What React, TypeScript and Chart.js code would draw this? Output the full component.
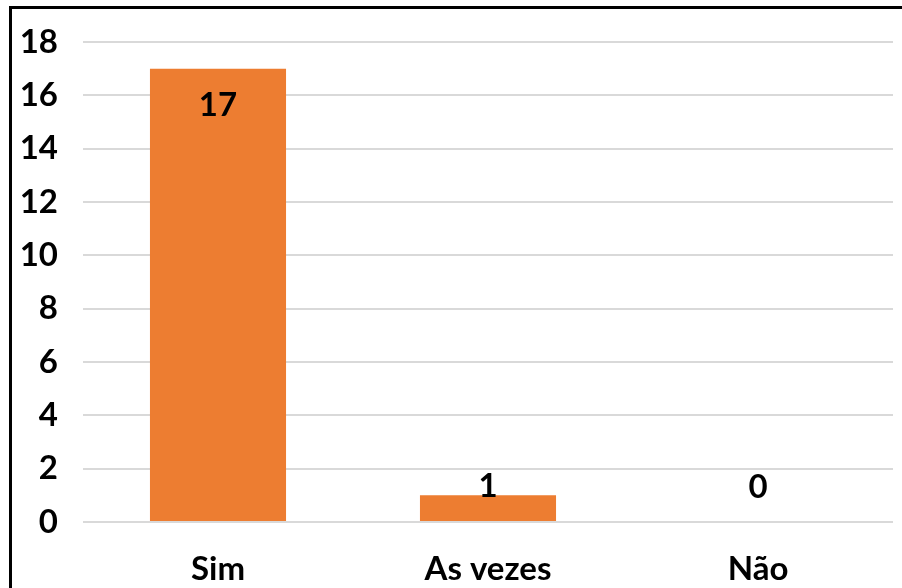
import React, { useEffect, useRef } from "react";
import { Chart, registerables } from "chart.js";

Chart.register(...registerables);

const categories = ["Sim", "As vezes", "Não"];
const values = [17, 1, 0];
const yMin = 0;
const yMax = 18;
const yStep = 2;

const FONT = "Lato, 'Open Sans', sans-serif";

const labelPlugin = {
  id: "valueLabels",
  afterDatasetsDraw(chart: any) {
    const ctx = chart.ctx;
    const meta = chart.getDatasetMeta(0);
    ctx.save();
    ctx.font = `bold 33px ${FONT}`;
    ctx.fillStyle = "#000";
    ctx.textAlign = "center";
    ctx.textBaseline = "middle";
    meta.data.forEach((bar: any, i: number) => {
      const y = Math.min(bar.y + 37, bar.base - 35);
      ctx.fillText(String(values[i]), bar.x, y);
    });
    ctx.restore();
  },
};

export default function App() {
  const ref = useRef<HTMLCanvasElement | null>(null);

  useEffect(() => {
    document.body.style.margin = "0";
    if (!ref.current) return;
    const chart = new Chart(ref.current, {
      type: "bar",
      data: {
        labels: categories,
        datasets: [
          {
            data: values,
            backgroundColor: "#ED7D31",
            categoryPercentage: 1,
            barPercentage: 0.504,
          },
        ],
      },
      options: {
        animation: false,
        responsive: false,
        maintainAspectRatio: false,
        layout: { padding: { left: 0, right: 9, top: 42, bottom: 0 } },
        plugins: {
          legend: { display: false },
          tooltip: { enabled: false },
          title: { display: false },
        },
        scales: {
          x: {
            grid: { display: false, drawTicks: false },
            border: { display: false },
            ticks: {
              color: "#000",
              font: { family: FONT, size: 33, weight: "bold" },
              padding: 28,
              maxRotation: 0,
            },
            afterFit: (s: any) => {
              s.height = 66;
            },
          },
          y: {
            min: yMin,
            max: yMax,
            grid: { color: "#d9d9d9", lineWidth: 2, drawTicks: false },
            border: { display: false },
            ticks: {
              stepSize: yStep,
              color: "#000",
              font: { family: FONT, size: 33, weight: "bold", lineHeight: 1 },
              padding: 25,
            },
            afterFit: (s: any) => {
              s.width = 83;
            },
          },
        },
      },
      plugins: [labelPlugin],
    });
    return () => chart.destroy();
  }, []);

  return (
    <div style={{ position: "relative", width: 902, height: 588, overflow: "hidden", background: "#fff" }}>
      <canvas ref={ref} width={902} height={588} style={{ position: "absolute", left: 0, top: 0 }} />
      <div
        style={{
          position: "absolute",
          left: 9,
          top: 6,
          width: 1000,
          height: 1000,
          borderLeft: "3px solid #000",
          borderTop: "3px solid #000",
          pointerEvents: "none",
        }}
      />
    </div>
  );
}
